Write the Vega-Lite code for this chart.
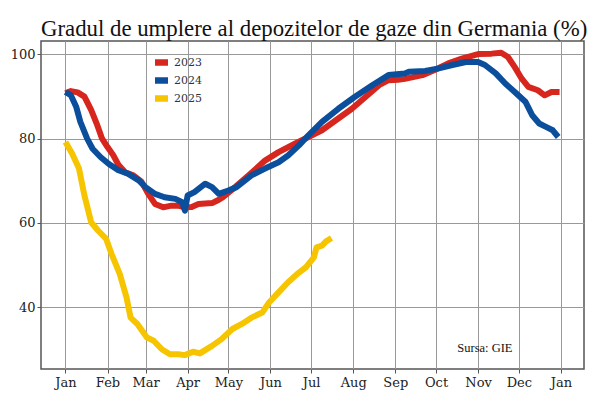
{
  "$schema": "https://vega.github.io/schema/vega-lite/v6.json",
  "autosize": "none",
  "width": 543,
  "height": 328,
  "padding": {"left": 41, "top": 41, "right": 16, "bottom": 26},
  "background": "white",
  "title": {
    "text": "Gradul de umplere al depozitelor de gaze din Germania (%)",
    "anchor": "start",
    "frame": "group",
    "font": "Liberation Serif",
    "fontSize": 22.8,
    "fontWeight": "normal",
    "color": "#111",
    "baseline": "alphabetic",
    "offset": -18
  },
  "config": {
    "view": {"stroke": "#555", "strokeWidth": 1.5},
    "axis": {
      "labelFont": "DejaVu Serif",
      "labelFontSize": 13,
      "labelColor": "#222",
      "gridColor": "#999",
      "gridWidth": 1,
      "gridOpacity": 1,
      "tickColor": "#555",
      "tickSize": 4,
      "domain": false,
      "title": null
    }
  },
  "data": {"values": [
    {"date": "2023-01-01", "year": "2023", "value": 90.8},
    {"date": "2023-01-05", "year": "2023", "value": 91.3},
    {"date": "2023-01-10", "year": "2023", "value": 91.0},
    {"date": "2023-01-15", "year": "2023", "value": 90.0},
    {"date": "2023-01-20", "year": "2023", "value": 86.8},
    {"date": "2023-01-24", "year": "2023", "value": 83.6},
    {"date": "2023-01-28", "year": "2023", "value": 80.0},
    {"date": "2023-02-01", "year": "2023", "value": 78.0},
    {"date": "2023-02-05", "year": "2023", "value": 76.2},
    {"date": "2023-02-09", "year": "2023", "value": 73.8},
    {"date": "2023-02-14", "year": "2023", "value": 72.0},
    {"date": "2023-02-20", "year": "2023", "value": 71.3},
    {"date": "2023-02-26", "year": "2023", "value": 69.8},
    {"date": "2023-03-03", "year": "2023", "value": 66.9},
    {"date": "2023-03-08", "year": "2023", "value": 64.5},
    {"date": "2023-03-14", "year": "2023", "value": 63.7},
    {"date": "2023-03-20", "year": "2023", "value": 64.1},
    {"date": "2023-03-25", "year": "2023", "value": 64.1},
    {"date": "2023-03-30", "year": "2023", "value": 63.7},
    {"date": "2023-04-04", "year": "2023", "value": 63.8},
    {"date": "2023-04-09", "year": "2023", "value": 64.5},
    {"date": "2023-04-19", "year": "2023", "value": 64.7},
    {"date": "2023-04-24", "year": "2023", "value": 65.5},
    {"date": "2023-04-27", "year": "2023", "value": 66.1},
    {"date": "2023-05-06", "year": "2023", "value": 68.5},
    {"date": "2023-05-16", "year": "2023", "value": 71.3},
    {"date": "2023-05-28", "year": "2023", "value": 74.8},
    {"date": "2023-06-07", "year": "2023", "value": 76.8},
    {"date": "2023-06-19", "year": "2023", "value": 78.8},
    {"date": "2023-06-29", "year": "2023", "value": 80.4},
    {"date": "2023-07-09", "year": "2023", "value": 82.0},
    {"date": "2023-07-21", "year": "2023", "value": 84.8},
    {"date": "2023-07-31", "year": "2023", "value": 87.1},
    {"date": "2023-08-10", "year": "2023", "value": 89.9},
    {"date": "2023-08-20", "year": "2023", "value": 92.7},
    {"date": "2023-08-27", "year": "2023", "value": 93.9},
    {"date": "2023-09-03", "year": "2023", "value": 94.0},
    {"date": "2023-09-08", "year": "2023", "value": 94.2},
    {"date": "2023-09-21", "year": "2023", "value": 95.1},
    {"date": "2023-09-30", "year": "2023", "value": 96.3},
    {"date": "2023-10-10", "year": "2023", "value": 97.9},
    {"date": "2023-10-20", "year": "2023", "value": 99.0},
    {"date": "2023-11-01", "year": "2023", "value": 100.1},
    {"date": "2023-11-11", "year": "2023", "value": 100.2},
    {"date": "2023-11-18", "year": "2023", "value": 100.4},
    {"date": "2023-11-23", "year": "2023", "value": 99.4},
    {"date": "2023-11-28", "year": "2023", "value": 97.0},
    {"date": "2023-12-03", "year": "2023", "value": 94.3},
    {"date": "2023-12-08", "year": "2023", "value": 92.3},
    {"date": "2023-12-15", "year": "2023", "value": 91.5},
    {"date": "2023-12-20", "year": "2023", "value": 90.3},
    {"date": "2023-12-25", "year": "2023", "value": 91.1},
    {"date": "2023-12-31", "year": "2023", "value": 91.1},

    {"date": "2023-01-01", "year": "2024", "value": 91.1},
    {"date": "2023-01-05", "year": "2024", "value": 90.3},
    {"date": "2023-01-09", "year": "2024", "value": 87.5},
    {"date": "2023-01-12", "year": "2024", "value": 84.0},
    {"date": "2023-01-17", "year": "2024", "value": 80.0},
    {"date": "2023-01-21", "year": "2024", "value": 77.6},
    {"date": "2023-01-27", "year": "2024", "value": 75.6},
    {"date": "2023-02-02", "year": "2024", "value": 74.0},
    {"date": "2023-02-09", "year": "2024", "value": 72.5},
    {"date": "2023-02-16", "year": "2024", "value": 71.7},
    {"date": "2023-02-24", "year": "2024", "value": 70.1},
    {"date": "2023-03-01", "year": "2024", "value": 68.5},
    {"date": "2023-03-08", "year": "2024", "value": 66.9},
    {"date": "2023-03-15", "year": "2024", "value": 66.1},
    {"date": "2023-03-23", "year": "2024", "value": 65.7},
    {"date": "2023-03-28", "year": "2024", "value": 64.9},
    {"date": "2023-03-30", "year": "2024", "value": 62.9},
    {"date": "2023-04-01", "year": "2024", "value": 66.5},
    {"date": "2023-04-06", "year": "2024", "value": 67.3},
    {"date": "2023-04-14", "year": "2024", "value": 69.3},
    {"date": "2023-04-19", "year": "2024", "value": 68.5},
    {"date": "2023-04-24", "year": "2024", "value": 66.9},
    {"date": "2023-05-01", "year": "2024", "value": 67.7},
    {"date": "2023-05-07", "year": "2024", "value": 68.5},
    {"date": "2023-05-18", "year": "2024", "value": 71.3},
    {"date": "2023-05-28", "year": "2024", "value": 72.9},
    {"date": "2023-06-07", "year": "2024", "value": 74.4},
    {"date": "2023-06-14", "year": "2024", "value": 76.0},
    {"date": "2023-06-22", "year": "2024", "value": 78.4},
    {"date": "2023-06-29", "year": "2024", "value": 80.8},
    {"date": "2023-07-09", "year": "2024", "value": 84.0},
    {"date": "2023-07-21", "year": "2024", "value": 87.1},
    {"date": "2023-08-02", "year": "2024", "value": 89.9},
    {"date": "2023-08-15", "year": "2024", "value": 92.7},
    {"date": "2023-08-27", "year": "2024", "value": 95.1},
    {"date": "2023-09-08", "year": "2024", "value": 95.5},
    {"date": "2023-09-11", "year": "2024", "value": 95.9},
    {"date": "2023-09-23", "year": "2024", "value": 96.1},
    {"date": "2023-10-03", "year": "2024", "value": 96.7},
    {"date": "2023-10-13", "year": "2024", "value": 97.5},
    {"date": "2023-10-23", "year": "2024", "value": 98.2},
    {"date": "2023-11-01", "year": "2024", "value": 98.2},
    {"date": "2023-11-06", "year": "2024", "value": 97.5},
    {"date": "2023-11-14", "year": "2024", "value": 95.5},
    {"date": "2023-11-21", "year": "2024", "value": 93.1},
    {"date": "2023-11-28", "year": "2024", "value": 91.1},
    {"date": "2023-12-06", "year": "2024", "value": 88.7},
    {"date": "2023-12-11", "year": "2024", "value": 85.5},
    {"date": "2023-12-16", "year": "2024", "value": 83.6},
    {"date": "2023-12-21", "year": "2024", "value": 82.8},
    {"date": "2023-12-26", "year": "2024", "value": 82.0},
    {"date": "2023-12-30", "year": "2024", "value": 80.4},

    {"date": "2023-01-01", "year": "2025", "value": 79.2},
    {"date": "2023-01-06", "year": "2025", "value": 76.4},
    {"date": "2023-01-11", "year": "2025", "value": 72.9},
    {"date": "2023-01-15", "year": "2025", "value": 66.5},
    {"date": "2023-01-20", "year": "2025", "value": 60.1},
    {"date": "2023-01-25", "year": "2025", "value": 58.2},
    {"date": "2023-01-31", "year": "2025", "value": 56.2},
    {"date": "2023-02-04", "year": "2025", "value": 52.6},
    {"date": "2023-02-10", "year": "2025", "value": 47.9},
    {"date": "2023-02-15", "year": "2025", "value": 42.3},
    {"date": "2023-02-18", "year": "2025", "value": 37.5},
    {"date": "2023-02-23", "year": "2025", "value": 36.0},
    {"date": "2023-03-02", "year": "2025", "value": 32.8},
    {"date": "2023-03-07", "year": "2025", "value": 32.0},
    {"date": "2023-03-13", "year": "2025", "value": 30.0},
    {"date": "2023-03-19", "year": "2025", "value": 28.8},
    {"date": "2023-03-25", "year": "2025", "value": 28.8},
    {"date": "2023-03-30", "year": "2025", "value": 28.6},
    {"date": "2023-04-05", "year": "2025", "value": 29.4},
    {"date": "2023-04-10", "year": "2025", "value": 29.0},
    {"date": "2023-04-19", "year": "2025", "value": 30.8},
    {"date": "2023-04-26", "year": "2025", "value": 32.4},
    {"date": "2023-05-04", "year": "2025", "value": 34.8},
    {"date": "2023-05-11", "year": "2025", "value": 36.0},
    {"date": "2023-05-18", "year": "2025", "value": 37.5},
    {"date": "2023-05-26", "year": "2025", "value": 38.7},
    {"date": "2023-05-31", "year": "2025", "value": 41.1},
    {"date": "2023-06-07", "year": "2025", "value": 43.5},
    {"date": "2023-06-14", "year": "2025", "value": 45.9},
    {"date": "2023-06-22", "year": "2025", "value": 48.2},
    {"date": "2023-06-27", "year": "2025", "value": 49.4},
    {"date": "2023-07-03", "year": "2025", "value": 51.8},
    {"date": "2023-07-05", "year": "2025", "value": 54.2},
    {"date": "2023-07-09", "year": "2025", "value": 54.6},
    {"date": "2023-07-12", "year": "2025", "value": 55.6},
    {"date": "2023-07-16", "year": "2025", "value": 56.4}
  ]},
  "layer": [
    {
      "mark": {"type": "line", "strokeWidth": 6, "strokeJoin": "round", "strokeCap": "butt", "clip": true},
      "encoding": {
        "x": {
          "field": "date",
          "type": "temporal",
          "scale": {"type": "utc", "domain": [{"year": 2022, "month": 12, "date": 14, "utc": true}, {"year": 2024, "month": 1, "date": 18, "utc": true}], "nice": false},
          "axis": {"format": "%b", "tickCount": {"interval": "month", "step": 1}, "labelPadding": 3, "grid": true, "labelFlush": false, "labelOverlap": false}
        },
        "y": {
          "field": "value",
          "type": "quantitative",
          "scale": {"domain": [25.3, 103.2], "nice": false, "zero": false},
          "axis": {"values": [40, 60, 80, 100], "labelPadding": 2, "grid": true}
        },
        "color": {
          "field": "year",
          "type": "nominal",
          "scale": {"domain": ["2023", "2024", "2025"], "range": ["#d7261e", "#0b4f9c", "#f6c500"]},
          "legend": {
            "title": null,
            "orient": "none",
            "legendX": 114,
            "legendY": 15,
            "symbolType": "M-1,-0.5H1V0.5H-1Z",
            "symbolSize": 169,
            "symbolStrokeWidth": 0,
            "labelFont": "DejaVu Serif",
            "labelFontSize": 11,
            "labelColor": "#333",
            "labelOffset": 6,
            "rowPadding": 6,
            "encode": {"symbols": {"update": {"fill": {"scale": "color", "field": "value"}, "fillOpacity": {"value": 1}}}}
          }
        }
      }
    },
    {
      "data": {"values": [{"label": "Sursa: GIE"}]},
      "mark": {"type": "text", "font": "Liberation Serif", "fontSize": 12.5, "align": "center", "baseline": "alphabetic", "color": "#111"},
      "encoding": {
        "text": {"field": "label"},
        "x": {"datum": {"year": 2023, "month": 11, "date": 6, "utc": true}, "type": "temporal"},
        "y": {"datum": 29.4, "type": "quantitative"}
      }
    }
  ]
}
